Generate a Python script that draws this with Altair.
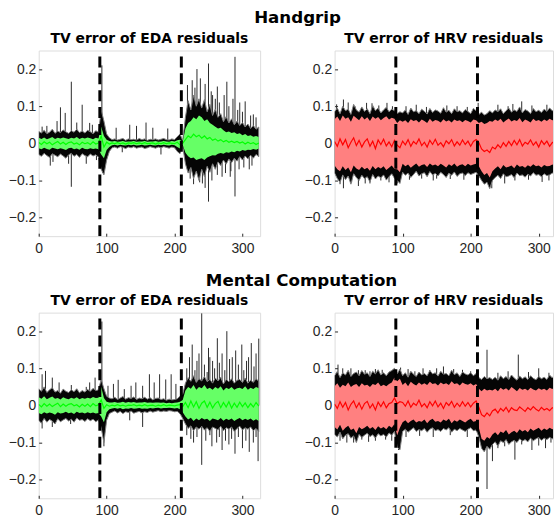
import altair as alt
import pandas as pd

TICK_FONT = "Liberation Sans"
TITLE_FONT = "DejaVu Sans"

# sample positions (time axis) and markers
X = list(range(0, 325, 4))
MARKERS = [90, 210]
XTICKS = [0, 100, 200, 300]
YTICKS = [-0.2, -0.1, 0, 0.1, 0.2]

# ---- values below are in thousandths ----
# Handgrip, EDA
A_HI = [32,28,35,26,30,38,27,33,29,36,31,27,34,30,38,29,33,28,35,31,26,34,30, 90,60,25,15,
        10,12,9,11,13,8,12,10,11,9,13,10,12,8,11,10,12,9,11,13,10,9,12,10, 18,25,8,
        70,115,90,130,100,120,95,118,85,105,75,92,70,80,58,72,55,66,50,60,48,56,44,52,40,48,38,44]
A_LO = [-30,-35,-27,-33,-38,-28,-32,-36,-29,-34,-40,-31,-27,-35,-30,-38,-28,-33,-36,-29,-34,-31,-37, -70,-85,-45,-22,
        -12,-10,-13,-9,-11,-14,-10,-12,-9,-13,-11,-10,-14,-12,-9,-11,-13,-10,-12,-9,-11,-13,-10,-12, -22,-28,-8,
        -55,-80,-65,-95,-75,-100,-70,-90,-62,-78,-55,-70,-50,-60,-45,-56,-42,-52,-40,-48,-36,-45,-34,-42,-32,-40,-30,-36]
A_CHI = [15,12,16,11,14,17,12,15,13,16,14,12,15,13,17,12,15,13,16,14,11,15,13, 45,20,10,6,
         5,6,4,5,6,4,5,5,6,4,5,5,6,4,5,5,6,4,5,6,5,4,6,5, 8,10,4,
         40,55,60,70,65,75,70,60,65,55,50,45,40,42,35,30,32,28,30,25,27,22,25,20,22,18,20,17]
A_CLO = [-13,-16,-12,-15,-17,-12,-14,-16,-13,-15,-18,-13,-12,-16,-14,-17,-12,-15,-16,-13,-15,-14,-16, -30,-40,-18,-10,
         -5,-4,-6,-4,-5,-6,-4,-5,-4,-6,-5,-4,-6,-5,-4,-5,-6,-4,-5,-4,-5,-6,-4,-5, -10,-14,-4,
         -25,-35,-40,-38,-45,-42,-40,-45,-38,-35,-32,-33,-28,-26,-28,-24,-25,-22,-24,-20,-22,-18,-20,-17,-18,-15,-17,-14]
A_MID = [2,-3,4,-1,3,-4,1,5,-2,3,-3,2,4,-2,1,-4,3,-1,2,-3,4,-2,1, 20,-10,3,-2,
         1,-1,2,-1,1,-2,1,0,2,-1,1,-1,2,-1,0,1,-2,1,-1,2,-1,1,0,-1, 3,-4,0,
         10,20,15,25,18,22,14,20,12,16,8,12,6,10,4,8,3,6,2,5,1,4,-2,3,-1,2,-3,1]
A_SX = [5,12,17,21,27,32,39,44,48,48,56,64,70,75,79,85,93,94,114,123,134,144,158,168,180,190,
        219,223,233,241,250,250,256,263,270,277,283,289,289,296,304,310,316,
        226,230,238,245,254,260,266,273,280,286,293,300,312,320,
        221,228,237,245,255,263,275,282,295,302,314]
A_SY = [45,47,-60,-50,60,97,82,-55,166,-117,56,104,-55,55,50,-45,210,-80,42,-24,50,47,56,42,-30,40,
        157,-95,200,-108,215,-157,130,153,-90,166,-75,233,-143,110,113,-70,78,
        170,150,175,160,140,120,110,130,100,120,90,85,75,70,
        -80,-110,-105,-120,-100,-85,-80,-90,-70,-65,-60]

# Handgrip, HRV
B_HI = [85,95,80,100,88,92,78,105,90,84,98,86,93,80,102,88,95,82,90,97,85,92,88, 80,85,
        82,90,78,95,85,88,80,92,86,79,94,83,90,87,81,96,84,89,80,93,85,88,82,91,86,80,94,88,
        78,84,76,80,88, 82,90,85,93,80,88,95,84,90,86,98,82,91,87,80,94,85,89,83,92,86,95,88,90]
B_LO = [-80,-95,-105,-85,-98,-88,-110,-82,-92,-100,-86,-95,-90,-104,-84,-96,-88,-93,-85,-99,-90,-82,-94, -100,-108,
        -78,-86,-80,-92,-84,-75,-88,-82,-79,-90,-76,-85,-81,-88,-78,-84,-92,-80,-86,-77,-89,-82,-80,-87,-79,-84,-81,-78,
        -88,-100,-110,-105,-122, -100,-92,-86,-95,-82,-90,-88,-84,-93,-80,-87,-85,-91,-83,-88,-79,-86,-84,-90,-82,-87,-85,-80,-83]
B_CHI = [65,72,60,75,66,70,58,74,68,62,73,64,70,60,72,66,71,62,68,73,64,69,66, 55,62,
         58,62,55,65,60,63,56,64,60,55,66,58,63,61,56,65,59,62,56,64,60,62,57,63,60,56,64,62,
         55,58,52,55,60, 58,64,60,66,56,62,67,59,63,60,68,57,64,61,56,66,60,63,58,64,60,66,62,63]
B_CLO = [-60,-70,-75,-62,-72,-65,-78,-60,-68,-72,-63,-70,-66,-74,-61,-70,-64,-68,-62,-72,-66,-60,-69, -70,-78,
         -55,-62,-57,-66,-60,-54,-63,-58,-56,-64,-54,-60,-57,-62,-55,-60,-65,-56,-61,-54,-63,-58,-56,-62,-55,-60,-57,-55,
         -62,-75,-85,-80,-92, -75,-68,-62,-70,-58,-65,-63,-60,-67,-57,-63,-61,-66,-59,-63,-56,-62,-60,-65,-58,-62,-61,-57,-60]
B_MID = [5,-8,12,-4,10,-12,3,15,-6,8,-10,4,12,-8,6,-14,9,-3,11,-7,4,-9,8, -5,-12,
         6,-4,10,-8,5,-2,12,-6,3,-10,8,-3,11,-5,2,-9,7,-1,10,-7,4,-5,9,-3,6,-8,5,10,
         2,-15,-22,-18,-25, -10,-15,-4,-12,2,-8,5,-6,8,-4,10,-7,3,-2,9,-5,4,-10,7,-3,6,-8,2,5]
B_SX = [13,13,45,47,77,92,150,211,231,275,305,
        3,20,30,55,65,85,105,120,135,165,180,195,240,255,262,290,312,
        8,25,35,52,68,80,110,128,145,170,190,250,265,285,315]
B_SY = [118,-121,-108,109,109,-108,-95,109,-121,113,-104,
        105,110,100,108,102,100,100,104,98,102,100,98,104,100,106,102,104,
        -110,-105,-115,-108,-100,-105,-98,-95,-100,-96,-98,-108,-100,-98,-100]

# Mental computation, EDA
C_HI = [45,38,50,35,42,48,36,40,33,44,38,35,42,37,45,34,40,36,43,38,46,40,42, 70,45,25,20,
        18,22,16,20,24,17,21,19,23,16,20,18,22,17,21,15,19,20,16,18,14,17,15,16,18, 25,30,
        60,75,65,80,62,72,66,78,64,70,60,74,66,76,58,70,64,72,60,68,70,62,74,60,68,62,72,65]
C_LO = [-40,-48,-35,-45,-38,-42,-50,-36,-44,-39,-35,-42,-37,-45,-34,-40,-38,-43,-36,-41,-37,-44,-39, -60,-100,-40,-22,
        -18,-15,-20,-16,-22,-17,-19,-15,-21,-18,-16,-20,-17,-19,-15,-18,-16,-14,-17,-15,-16,-14,-15,-17,-16, -22,-35,
        -50,-62,-55,-68,-58,-64,-56,-66,-60,-70,-58,-62,-66,-56,-68,-60,-64,-58,-70,-62,-56,-66,-60,-64,-58,-68,-62,-70]
C_CHI = [22,18,25,17,21,24,18,20,16,22,19,17,21,18,22,17,20,18,21,19,23,20,21, 50,20,10,8,
         8,9,7,8,10,7,9,8,9,7,8,8,9,7,8,7,8,8,7,8,6,7,6,7,8, 10,15,
         40,50,45,55,42,50,46,55,44,48,42,50,45,52,40,48,44,50,42,46,48,44,52,42,48,44,50,46]
C_CLO = [-20,-24,-18,-22,-19,-21,-25,-18,-22,-20,-17,-21,-19,-23,-17,-20,-19,-22,-18,-21,-19,-22,-20, -30,-45,-18,-10,
         -8,-7,-9,-7,-10,-8,-9,-7,-9,-8,-7,-9,-8,-9,-7,-8,-7,-6,-8,-7,-7,-6,-7,-8,-7, -10,-18,
         -30,-38,-33,-42,-35,-40,-34,-38,-36,-42,-35,-37,-40,-34,-41,-36,-39,-35,-42,-37,-34,-40,-36,-39,-35,-41,-37,-42]
C_MID = [3,-4,5,-2,4,-3,2,6,-3,4,-2,3,5,-1,2,-4,3,-2,4,-3,5,-1,2, 15,-8,2,-2,
         1,-1,2,-1,1,-2,1,0,2,-1,1,-1,2,-1,0,1,-2,1,-1,2,-1,1,0,-1,1, 2,-3,
         8,-6,12,-4,10,-8,6,12,-5,9,-7,5,11,-6,8,-4,10,-7,6,-5,9,-3,7,-6,5,-4,8,-2]
C_SX = [5,10,20,30,48,70,75,83,93,102,110,117,126,136,143,153,163,170,178,187,195,202,
        226,233,240,250,256,263,270,277,285,290,299,306,313,324,
        5,20,47,96,134,153,228,240,255,270,280,289,300,310,323,
        218,222,230,236,244,248,252,259,266,274,281,294,302,309,317,320,
        218,224,233,246,252,262,266,275,284,294,305,316,320]
C_SY = [84,93,75,62,55,50,62,75,226,53,58,69,44,53,62,53,84,62,84,70,84,58,
        164,120,248,155,120,181,140,200,130,148,164,120,168,180,
        -62,-58,-50,-110,-40,-58,-100,-160,-110,-120,-105,-130,-115,-125,-150,
        100,130,95,140,110,90,130,100,115,95,125,110,95,130,105,140,
        -80,-90,-85,-95,-80,-100,-85,-95,-90,-85,-95,-100,-85]

# Mental computation, HRV
D_HI = [80,92,75,88,82,95,78,86,90,80,94,84,88,78,92,85,96,82,88,80,90,94,100, 85,98,
        80,88,76,92,84,78,90,82,86,80,94,85,88,79,92,84,86,80,95,83,88,78,90,85,82,88,80,86,
        75,70,78,72,75, 70,76,68,80,72,78,70,82,74,68,79,72,77,70,80,73,69,78,72,76,70,82,74,85]
D_LO = [-78,-85,-72,-90,-80,-76,-88,-82,-100,-78,-86,-80,-75,-84,-79,-88,-76,-82,-78,-85,-74,-80,-70, -112,-120,
        -70,-64,-72,-66,-60,-70,-65,-68,-62,-72,-64,-60,-68,-65,-70,-62,-66,-60,-72,-64,-68,-62,-66,-70,-64,-60,-68,-66,
        -85,-115,-125,-110,-118, -105,-98,-110,-95,-100,-92,-105,-98,-94,-100,-90,-96,-92,-98,-88,-95,-90,-86,-94,-88,-92,-86,-90,-88]
D_CHI = [52,60,48,56,52,62,50,55,58,50,60,54,56,50,58,55,62,52,56,52,58,62,75, 65,72,
         55,62,52,64,58,54,62,56,60,55,64,58,60,54,62,57,60,55,65,58,60,54,62,58,56,60,54,58,
         45,38,45,40,42, 40,45,38,48,42,46,40,50,44,38,47,42,45,40,48,43,40,46,42,45,40,48,44,50]
D_CLO = [-58,-65,-52,-68,-60,-55,-66,-62,-75,-58,-64,-60,-55,-63,-58,-66,-56,-62,-58,-64,-55,-60,-50, -80,-60,
         -45,-40,-48,-42,-38,-46,-42,-44,-38,-48,-40,-36,-44,-42,-46,-38,-42,-36,-48,-40,-44,-38,-42,-46,-40,-36,-44,-42,
         -60,-90,-95,-85,-90, -78,-72,-80,-70,-74,-66,-78,-72,-68,-74,-64,-70,-66,-72,-62,-68,-64,-60,-68,-62,-66,-60,-64,-62]
D_MID = [4,-8,10,-5,8,-12,3,12,-6,7,-10,5,11,-7,4,-12,9,-3,10,-6,5,8,20, 5,10,
         8,-2,12,-5,6,0,14,-3,5,-6,10,-1,12,-4,6,-8,8,0,11,-5,6,-3,10,-2,8,-4,6,12,
         -5,-25,-30,-20,-28, -15,-10,-20,-8,-15,-5,-18,-6,-12,-14,-4,-10,-16,-6,-12,-3,-10,-15,-5,-12,-8,-14,-6,-10]
D_SX = [5,24,45,60,97,130,160,175,224,270,300, 28,60,94,224,232,265,290,310,
        12,35,52,70,85,108,118,140,150,188,200,240,255,285,315,
        8,18,40,50,75,84,105,125,145,170,195,240,250,275,300,318]
D_SY = [110,100,95,98,102,100,105,98,150,137,100, -100,-95,-120,-225,-150,-146,-120,-115,
        100,95,92,96,95,98,92,95,100,96,92,88,92,90,88,
        -95,-100,-92,-98,-92,-95,-85,-82,-85,-80,-85,-115,-110,-105,-108,-100]

EDA_BAND, EDA_LINE = "#66ff66", "#00ff00"
HRV_BAND, HRV_LINE = "#ff8080", "#ff0000"

Y_LABEL = "datum.value == 0 ? '0' : format(datum.value, '.1f')"


def panel(title, hi, lo, chi, clo, mid, sx, sy, band, line, xmax, width):
    for s in (hi, lo, chi, clo, mid):
        assert len(s) == len(X), len(s)
    assert len(sx) == len(sy), (len(sx), len(sy))
    df = pd.DataFrame({
        "x": X,
        "hi": [v / 1000 for v in hi],
        "lo": [v / 1000 for v in lo],
        "chi": [v / 1000 for v in chi],
        "clo": [v / 1000 for v in clo],
        "mid": [v / 1000 for v in mid],
    })
    sp = pd.DataFrame({"x": sx, "y": [v / 1000 for v in sy], "y0": [0.0] * len(sx)})
    mk = pd.DataFrame({"x": MARKERS, "top": [0.25] * len(MARKERS), "bot": [-0.25] * len(MARKERS)})

    xs = alt.Scale(domain=[0, xmax], nice=False, zero=False)
    ys = alt.Scale(domain=[-0.25, 0.25], nice=False, zero=False)
    xax = alt.Axis(values=XTICKS, title=None, grid=False, domain=False, tickSize=3, offset=-3,
                   labelPadding=5, labelFontSize=14, labelFont=TICK_FONT, labelColor="#262626",
                   tickColor="#262626", labelFlush=False)
    yax = alt.Axis(values=YTICKS, title=None, grid=False, domain=False, tickSize=3, offset=-3,
                   labelPadding=3, labelFontSize=14, labelFont=TICK_FONT, labelColor="#262626",
                   tickColor="#262626", labelExpr=Y_LABEL)
    ex = alt.X("x:Q", scale=xs, axis=xax)

    spikes = alt.Chart(sp).mark_rule(color="#2a2a2a", strokeWidth=1, clip=True).encode(
        x=ex, y=alt.Y("y:Q", scale=ys, axis=yax), y2="y0:Q")
    black = alt.Chart(df).mark_area(color="#050505", stroke="#808080", strokeWidth=1, clip=True).encode(
        x=ex, y=alt.Y("hi:Q", scale=ys, axis=yax), y2="lo:Q")
    colr = alt.Chart(df).mark_area(color=band, opacity=1, clip=True).encode(
        x=ex, y=alt.Y("chi:Q", scale=ys, axis=yax), y2="clo:Q")
    midl = alt.Chart(df).mark_line(color=line, strokeWidth=1.2, clip=True).encode(
        x=ex, y=alt.Y("mid:Q", scale=ys, axis=yax))
    dash = alt.Chart(mk).mark_rule(color="black", strokeWidth=3, strokeDash=[11, 6], clip=True).encode(
        x=ex, y=alt.Y("bot:Q", scale=ys, axis=yax), y2="top:Q")

    return alt.layer(spikes, black, colr, midl, dash).properties(
        width=width, height=187,
        title=alt.TitleParams(title, fontSize=14, font=TITLE_FONT, fontWeight="bold", color="black",
                              offset=5, frame="group", anchor="middle"))


pA = panel("TV error of EDA residuals", A_HI, A_LO, A_CHI, A_CLO, A_MID, A_SX, A_SY, EDA_BAND, EDA_LINE, 326, 223)
pB = panel("TV error of HRV residuals", B_HI, B_LO, B_CHI, B_CLO, B_MID, B_SX, B_SY, HRV_BAND, HRV_LINE, 321, 220)
pC = panel("TV error of EDA residuals", C_HI, C_LO, C_CHI, C_CLO, C_MID, C_SX, C_SY, EDA_BAND, EDA_LINE, 326, 223)
pD = panel("TV error of HRV residuals", D_HI, D_LO, D_CHI, D_CLO, D_MID, D_SX, D_SY, HRV_BAND, HRV_LINE, 321, 220)


def group_title(t, dx):
    return alt.TitleParams(t, fontSize=16.8, font=TITLE_FONT, fontWeight="bold", color="black",
                           anchor="middle", dx=dx, offset=4)


top = alt.hconcat(pA, pB, spacing=42).properties(title=group_title("Handgrip", 17))
bot = alt.hconcat(pC, pD, spacing=42).properties(title=group_title("Mental Computation", 21))

chart = alt.vconcat(top, bot, spacing=16).properties(
    padding={"left": 7, "top": 8, "right": 0, "bottom": 0}
).configure_view(stroke="#8c8c8c", strokeWidth=1).configure(background="white")

chart.save("out.html", embed_options={"renderer": "svg", "actions": False})
